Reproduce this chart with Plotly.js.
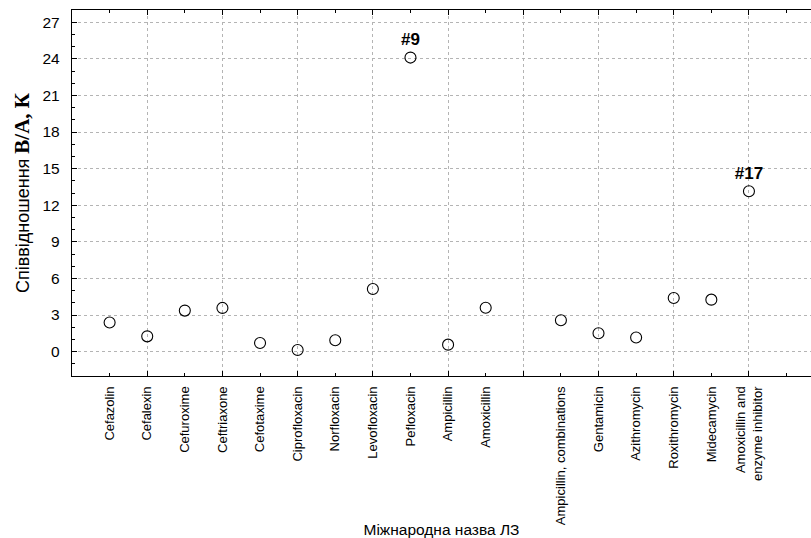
<!DOCTYPE html>
<html>
<head>
<meta charset="utf-8">
<script src="https://cdn.plot.ly/plotly-3.0.1.min.js"></script>
<style>html,body{margin:0;padding:0;background:#fff;}#chart{width:811px;height:538px;}</style>
</head>
<body>
<div id="chart"></div>
<script>
// Group 1 and group 2 of medicines (a blank slot separates them on the axis)
const group1 = ['Cefazolin','Cefalexin','Cefuroxime','Ceftriaxone','Cefotaxime','Ciprofloxacin','Norfloxacin','Levofloxacin','Pefloxacin','Ampicillin','Amoxicillin'];
const group2 = ['Ampicillin, combinations','Gentamicin','Azithromycin','Roxithromycin','Midecamycin','Amoxicillin and<br>enzyme inhibitor'];
const values1 = [2.38, 1.25, 3.36, 3.58, 0.71, 0.13, 0.93, 5.13, 24.1, 0.57, 3.6];
const values2 = [2.57, 1.5, 1.15, 4.39, 4.26, 13.14];
const labels1 = ['', '', '', '', '', '', '', '', '#9', '', ''];
const labels2 = ['', '', '', '', '', '#17'];
const yTicks = [0, 3, 6, 9, 12, 15, 18, 21, 24, 27];

const categories = group1.concat(group2);
const values = values1.concat(values2);
const labels = labels1.concat(labels2);
const categoryOrder = group1.concat([' '], group2, ['  ']);

const font = 'Liberation Sans, Arial, sans-serif';
const xRange = [-1, 18.65];

const traces = [
  {
    type: 'scatter', mode: 'markers+text',
    x: categories, y: values, text: labels,
    textposition: 'top center',
    textfont: {family: font, size: 17, color: '#000', weight: 'bold'},
    marker: {symbol: 'circle-open', size: 11, color: '#000', line: {width: 1.1, color: '#000'}},
    hoverinfo: 'x+y', showlegend: false, cliponaxis: false
  },
  {type: 'scatter', mode: 'markers', x: [], y: [], xaxis: 'x2', yaxis: 'y', showlegend: false, hoverinfo: 'skip'}
];

const layout = {
  width: 811, height: 538,
  margin: {l: 72, r: 0, t: 10, b: 162},
  paper_bgcolor: '#fff', plot_bgcolor: '#fff',
  showlegend: false,
  font: {family: font, color: '#000'},
  xaxis: {
    type: 'category', categoryorder: 'array', categoryarray: categoryOrder,
    range: xRange, showgrid: false, zeroline: false,
    ticks: '', tickangle: -90, tickfont: {family: font, size: 13, color: '#000'},
    ticklabelstandoff: 4,
    showline: true, linecolor: '#000', linewidth: 1.2,
    title: {text: 'Міжнародна назва ЛЗ', font: {family: font, size: 15.5, color: '#000'}, standoff: 10}
  },
  xaxis2: {
    overlaying: 'x', anchor: 'y', side: 'bottom', range: xRange,
    tick0: 1, dtick: 2, showticklabels: false,
    ticks: 'inside', ticklen: 5, tickcolor: '#000',
    showgrid: true, gridcolor: '#b4b4b4', griddash: 'dot', gridwidth: 1,
    zeroline: false, showline: true, linecolor: '#000', linewidth: 1.2, mirror: 'ticks',
    minor: {tick0: 0, dtick: 1, ticks: 'inside', ticklen: 3, tickcolor: '#000', showgrid: false}
  },
  yaxis: {
    range: [-2, 28], tickmode: 'array', tickvals: yTicks,
    ticks: 'inside', ticklen: 5, tickcolor: '#000',
    tickfont: {family: font, size: 15.5, color: '#000'},
    ticklabelstandoff: 8,
    showgrid: true, gridcolor: '#b4b4b4', griddash: 'dot', gridwidth: 1,
    zeroline: false, showline: true, linecolor: '#000', linewidth: 1.2,
    minor: {tick0: 0, dtick: 1, ticks: 'inside', ticklen: 3, tickcolor: '#000', showgrid: false},
    title: {
      text: 'Співвідношення <span style="font-family:Liberation Serif, Times New Roman, serif;font-size:21px;font-weight:bold">В/А, К</span>',
      font: {family: font, size: 18, color: '#000'}, standoff: 8
    }
  }
};

Plotly.newPlot('chart', traces, layout, {displayModeBar: false, staticPlot: true});
</script>
</body>
</html>
